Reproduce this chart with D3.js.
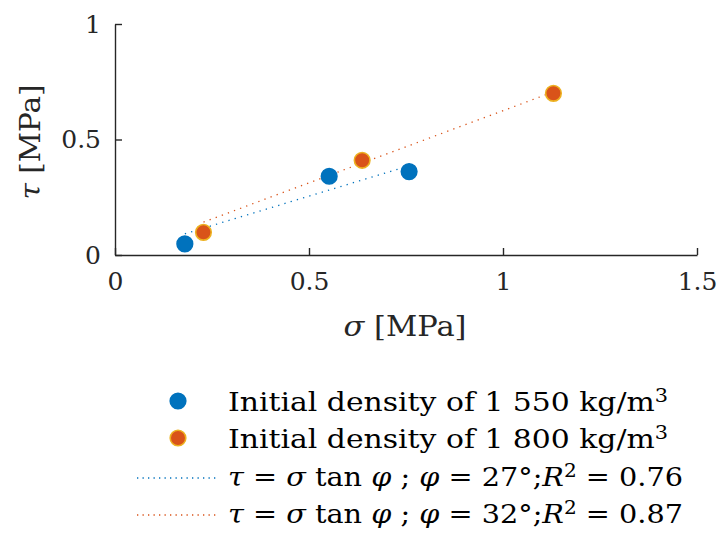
<!DOCTYPE html>
<html><head><meta charset="utf-8">
<script src="https://cdn.jsdelivr.net/npm/d3@7"></script>
<style>body{margin:0;background:#fff}svg{display:block}</style>
</head><body>
<script>
const xTicks = [0, 0.5, 1, 1.5];
const yTicks = [0, 0.5, 1];
const sigma1550 = [0.18, 0.552, 0.758];
const tau1550 = [0.048, 0.341, 0.361];
const sigma1800 = [0.228, 0.637, 1.13];
const tau1800 = [0.098, 0.41, 0.70];
const phiDeg = [27, 32];
const r2 = ["0.76", "0.87"];
const seriesNames = ["Initial density of 1 550 kg/m", "Initial density of 1 800 kg/m"];

const W = 721, H = 536;
const FONT = "DejaVu Serif";
const svg = d3.select("body").append("svg").attr("width", W).attr("height", H);
const x = d3.scaleLinear().domain([0, 1.5]).range([115, 697]);
const y = d3.scaleLinear().domain([0, 1]).range([255, 24]);
const axCol = "#262626";
const cols = [{fill: "#0072BD", edge: "#0072BD", line: "#0072BD"}, {fill: "#D95319", edge: "#EDB120", line: "#D95319"}];

const gx = svg.append("g").attr("transform", "translate(0,255)")
  .call(d3.axisBottom(x).tickValues(xTicks).tickSizeInner(-7).tickSizeOuter(0).tickPadding(17).tickFormat(d => String(d)));
const gy = svg.append("g").attr("transform", "translate(115,0)")
  .call(d3.axisLeft(y).tickValues(yTicks).tickSizeInner(-7).tickSizeOuter(0).tickPadding(14).tickFormat(d => String(d)));
[gx, gy].forEach(g => {
  g.select(".domain").attr("stroke", axCol).attr("stroke-width", 1.4);
  g.selectAll(".tick line").attr("stroke", axCol).attr("stroke-width", 1.4);
  g.selectAll(".tick text").attr("fill", axCol).attr("font-family", FONT).attr("font-size", 25);
});

// fit lines: tau = sigma * tan(phi)
const fits = [{s: sigma1550, phi: phiDeg[0]}, {s: sigma1800, phi: phiDeg[1]}];
fits.forEach((f, i) => {
  const k = Math.tan(f.phi * Math.PI / 180);
  const x0 = d3.min(f.s), x1 = d3.max(f.s);
  svg.append("line").attr("x1", x(x0)).attr("y1", y(x0 * k)).attr("x2", x(x1)).attr("y2", y(x1 * k))
    .attr("stroke", cols[i].line).attr("stroke-width", 1.3).attr("stroke-dasharray", "1.3,5.2");
});

// points
const sets = [{s: sigma1550, t: tau1550}, {s: sigma1800, t: tau1800}];
sets.forEach((st, i) => {
  svg.append("g").selectAll("circle").data(st.s.map((v, j) => [v, st.t[j]])).join("circle")
    .attr("cx", d => x(d[0])).attr("cy", d => y(d[1])).attr("r", 7.8)
    .attr("fill", cols[i].fill).attr("stroke", cols[i].edge).attr("stroke-width", 1.6);
});

function mathText(sel, parts) {
  parts.forEach(p => {
    const t = sel.append("tspan").text(p.t);
    if (p.i) t.attr("font-style", "italic");
    if (p.sup) t.attr("font-size", "0.7em").attr("dy", -9);
    if (p.down) t.attr("dy", 9);
  });
  return sel;
}
const xl = svg.append("text").attr("x", 405).attr("y", 336).attr("text-anchor", "middle")
  .attr("font-family", FONT).attr("font-size", 27).attr("fill", axCol)
  .attr("textLength", 123).attr("lengthAdjust", "spacingAndGlyphs");
mathText(xl, [{t: "σ", i: true}, {t: " [MPa]"}]);
const yl = svg.append("text").attr("transform", "translate(40,142) rotate(-90)").attr("text-anchor", "middle")
  .attr("font-family", FONT).attr("font-size", 27).attr("fill", axCol)
  .attr("textLength", 115).attr("lengthAdjust", "spacingAndGlyphs");
mathText(yl, [{t: "τ", i: true}, {t: " [MPa]"}]);

// legend
const lg = svg.append("g");
const rowsY = [401, 438, 476, 513];
[0, 1].forEach(i => {
  lg.append("circle").attr("cx", 178).attr("cy", rowsY[i]).attr("r", 7.8)
    .attr("fill", cols[i].fill).attr("stroke", cols[i].edge).attr("stroke-width", 1.6);
  const t = lg.append("text").attr("x", 228).attr("y", rowsY[i] + 10).attr("font-family", FONT)
    .attr("font-size", 26).attr("fill", "#000").attr("textLength", 440).attr("lengthAdjust", "spacingAndGlyphs");
  mathText(t, [{t: seriesNames[i]}, {t: "3", sup: true}]);
});
[0, 1].forEach(i => {
  const yy = rowsY[i + 2];
  lg.append("line").attr("x1", 137).attr("x2", 216).attr("y1", yy + 2).attr("y2", yy + 2)
    .attr("stroke", cols[i].line).attr("stroke-width", 1.3).attr("stroke-dasharray", "1.3,4.2");
  const t = lg.append("text").attr("x", 228).attr("y", yy + 10).attr("font-family", FONT)
    .attr("font-size", 26).attr("fill", "#000").attr("textLength", 455).attr("lengthAdjust", "spacingAndGlyphs");
  mathText(t, [{t: "τ", i: true}, {t: " = "}, {t: "σ", i: true}, {t: " tan "}, {t: "φ", i: true}, {t: " ; "},
    {t: "φ", i: true}, {t: " = " + phiDeg[i] + "°;"}, {t: "R", i: true}, {t: "2", sup: true}, {t: " = " + r2[i], down: true}]);
});
</script>
</body></html>
